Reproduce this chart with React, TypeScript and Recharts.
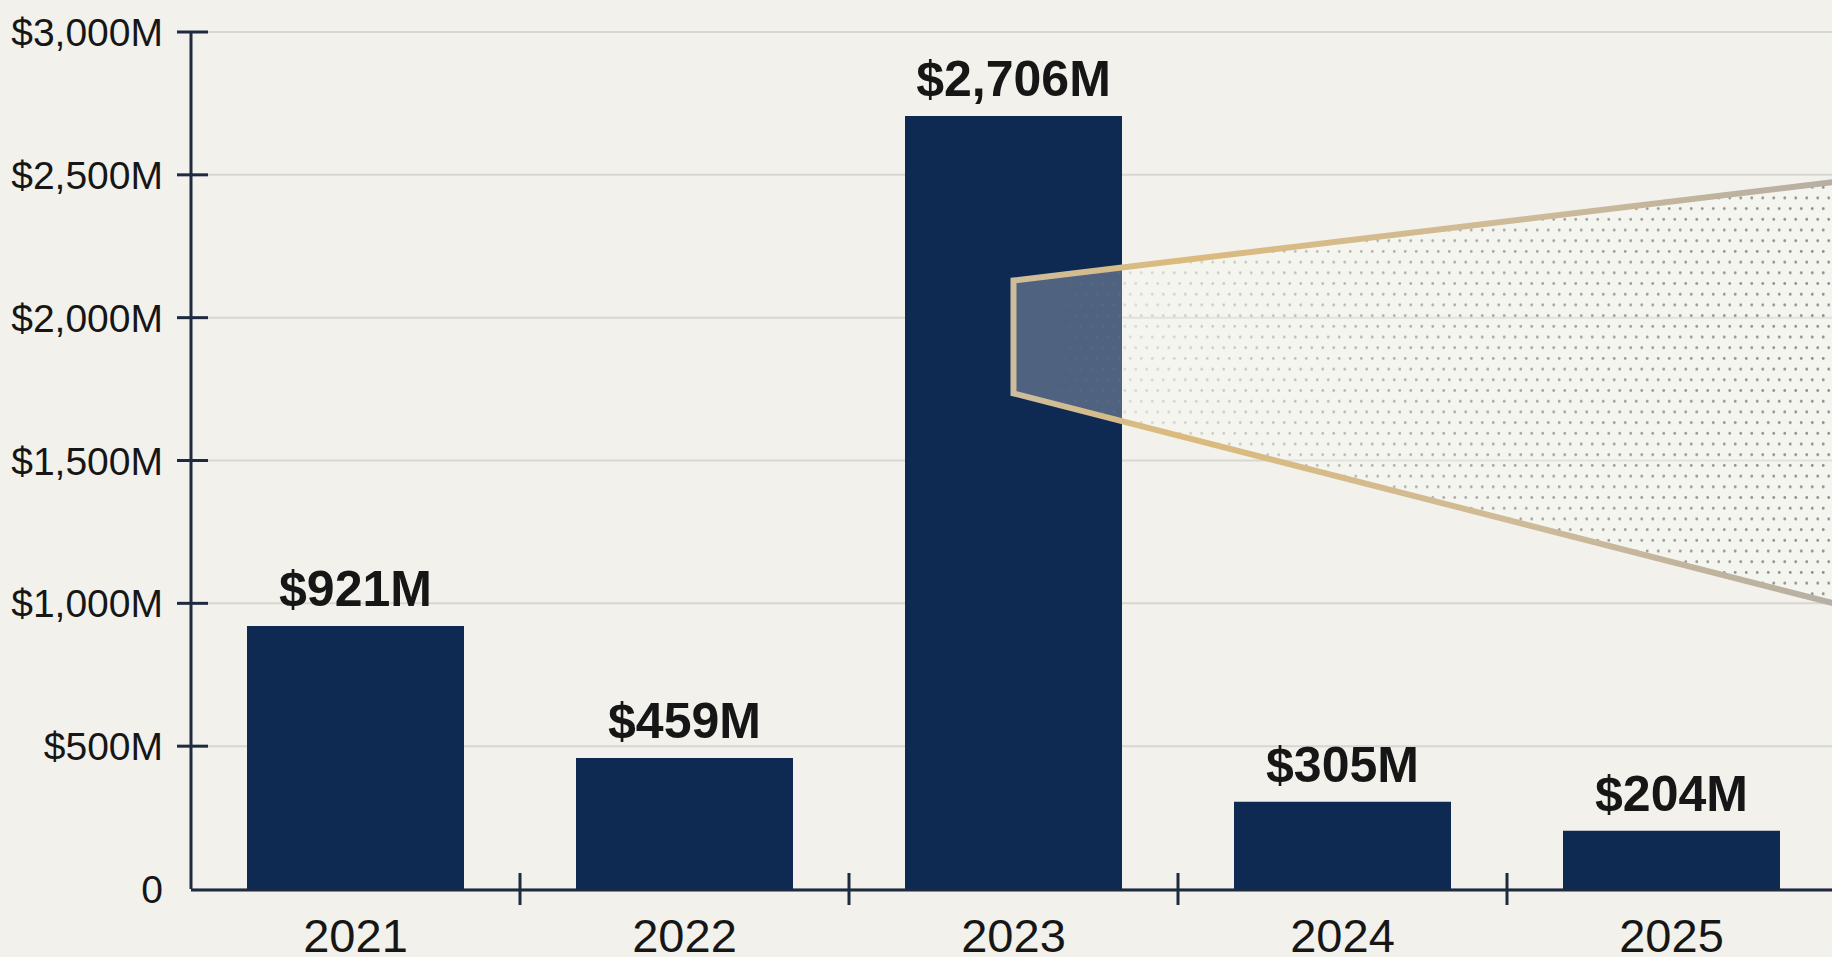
import React from 'react';
import { BarChart, Bar, XAxis, YAxis, CartesianGrid, LabelList, ReferenceArea } from 'recharts';

// ---- data ----
const years = ['2021', '2022', '2023', '2024', '2025'];
const fundingMillions = [921, 459, 2706, 305, 204];
const yTicks = [0, 500, 1000, 1500, 2000, 2500, 3000];
const boundaryTicks = [1, 2, 3, 4, 5];

// magnifier annotation (data units)
const zoomFrom = '2023';
const zoomTo = '2025';
const coneLow = 993;
const coneHigh = 2476;
const boxLow = 1735;
const boxHigh = 2130;

// "edge" = index of the category's right-hand boundary (used for the between-category tick marks)
const data = years.map((year, i) => ({ year, value: fundingMillions[i], edge: i + 1 }));

// ---- style ----
const BG = '#f2f1eb';
const NAVY = '#0f2a52';
const AXIS = '#1d2a40';
const GRID = '#d7d7d1';
const TEXT = '#161616';
const FONT = '"Liberation Sans", Arial, Helvetica, sans-serif';
const BAR_SIZE = 217;

const fmtMoney = (v: number) => (v === 0 ? '0' : `$${v.toLocaleString('en-US')}M`);

const YTick = (props: any) => {
  const { x, y, payload } = props;
  const v = payload.value as number;
  return (
    <g>
      {v !== 0 && <line x1={x - 14} x2={x + 17} y1={y} y2={y} stroke={AXIS} strokeWidth={3} />}
      <text x={x - 28} y={y} dy="0.36em" textAnchor="end" fontSize={39} fill={TEXT} fontFamily={FONT}>
        {fmtMoney(v)}
      </text>
    </g>
  );
};

const XTick = (props: any) => {
  const { x, y, payload } = props;
  return (
    <text x={x} y={y} dy={62} textAnchor="middle" fontSize={47} fill={TEXT} fontFamily={FONT}>
      {payload.value}
    </text>
  );
};

const BoundTick = (props: any) => {
  const { x, y } = props;
  return <line x1={x} x2={x} y1={y - 16} y2={y + 16} stroke={AXIS} strokeWidth={3} />;
};

const ConeShape = (props: any) => {
  const { x, y, width, height } = props;
  if (x == null || y == null || !width || !height) return null;
  const span = years.indexOf(zoomTo) - years.indexOf(zoomFrom) + 1;
  const band = width / span;
  const left = x + band / 2;
  const right = x + width;
  const yOf = (v: number) => y + ((coneHigh - v) / (coneHigh - coneLow)) * height;
  const yTopL = yOf(boxHigh);
  const yBotL = yOf(boxLow);
  const pts = `${left},${yTopL} ${right},${y} ${right},${y + height} ${left},${yBotL}`;
  const edge = `M${right + 10},${y - 1.2} L${left},${yTopL} L${left},${yBotL} L${right + 10},${y + height + 1.2}`;
  return (
    <g>
      <defs>
        <pattern id="coneDots" patternUnits="userSpaceOnUse" width={11} height={21.4}>
          <circle cx={2.75} cy={5.35} r={1.4} fill="#86857f" />
          <circle cx={8.25} cy={16.05} r={1.4} fill="#86857f" />
        </pattern>
        <linearGradient id="coneFade" gradientUnits="userSpaceOnUse" x1={left} x2={right} y1={0} y2={0}>
          <stop offset="0" stopColor="#fff" stopOpacity={0} />
          <stop offset="0.14" stopColor="#fff" stopOpacity={0.25} />
          <stop offset="0.5" stopColor="#fff" stopOpacity={0.65} />
          <stop offset="1" stopColor="#fff" stopOpacity={0.95} />
        </linearGradient>
        <mask id="coneMask" maskUnits="userSpaceOnUse" x={left - 10} y={y - 10} width={width + 20} height={height + 20}>
          <rect x={left - 10} y={y - 10} width={width + 20} height={height + 20} fill="url(#coneFade)" />
        </mask>
        <linearGradient id="coneStroke" gradientUnits="userSpaceOnUse" x1={left} x2={right} y1={0} y2={0}>
          <stop offset="0" stopColor="#cdbd9c" />
          <stop offset="0.2" stopColor="#dcba7c" />
          <stop offset="0.6" stopColor="#cfbb98" />
          <stop offset="1" stopColor="#b6afa3" />
        </linearGradient>
      </defs>
      <polygon points={pts} fill="#ffffff" fillOpacity={0.27} />
      <polygon points={pts} fill="url(#coneDots)" mask="url(#coneMask)" />
      <path d={edge} fill="none" stroke="url(#coneStroke)" strokeWidth={6} strokeLinejoin="miter" />
    </g>
  );
};

export default function App() {
  return (
    <div
      style={{
        position: 'absolute',
        left: 0,
        top: 0,
        width: 1832,
        height: 957,
        overflow: 'hidden',
        background: BG,
      }}
    >
      <BarChart
        width={1840}
        height={957}
        data={data}
        margin={{ top: 32, right: 4, bottom: 0, left: 0 }}
        style={{ fontFamily: FONT }}
      >
        <CartesianGrid horizontal vertical={false} stroke={GRID} strokeWidth={2} xAxisId="cat" />
        <XAxis
          xAxisId="bounds"
          dataKey="edge"
          type="number"
          domain={[0, years.length]}
          ticks={boundaryTicks}
          interval={0}
          tick={<BoundTick />}
          axisLine={false}
          tickLine={false}
          tickSize={0}
          tickMargin={0}
          height={1}
          allowDataOverflow
        />
        <XAxis
          xAxisId="cat"
          dataKey="year"
          type="category"
          interval={0}
          tick={<XTick />}
          axisLine={{ stroke: AXIS, strokeWidth: 3 }}
          tickLine={false}
          tickSize={0}
          tickMargin={0}
          height={67}
        />
        <YAxis
          domain={[0, 3000]}
          ticks={yTicks}
          interval={0}
          width={191}
          tick={<YTick />}
          axisLine={{ stroke: AXIS, strokeWidth: 3 }}
          tickLine={false}
          tickSize={0}
          tickMargin={0}
        />
        <Bar xAxisId="cat" dataKey="value" fill={NAVY} barSize={BAR_SIZE} isAnimationActive={false}>
          <LabelList
            dataKey="value"
            position="top"
            offset={20}
            formatter={(v: any) => fmtMoney(Number(v))}
            fontSize={50}
            fontWeight="bold"
            fill={TEXT}
            fontFamily={FONT}
          />
        </Bar>
        <ReferenceArea
          xAxisId="cat"
          x1={zoomFrom}
          x2={zoomTo}
          y1={coneLow}
          y2={coneHigh}
          shape={<ConeShape />}
          zIndex={450}
          ifOverflow="visible"
        />
      </BarChart>
    </div>
  );
}
